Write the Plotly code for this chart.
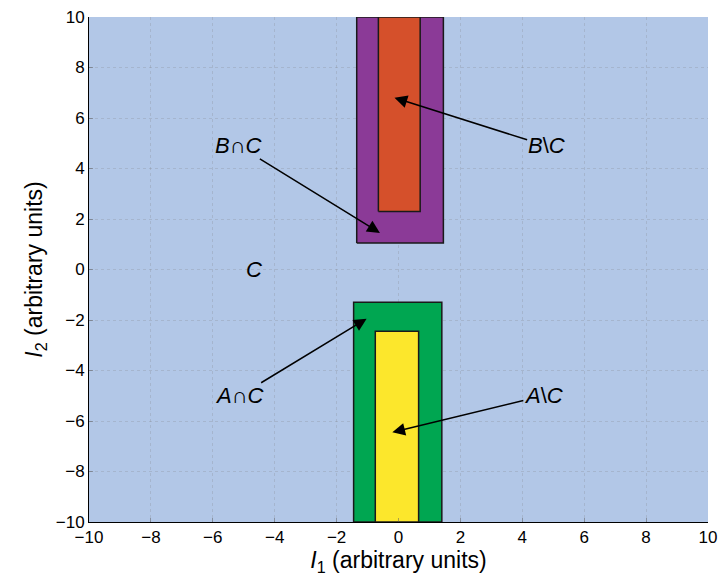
import plotly.graph_objects as go

# Set regions: [x0, x1, y0, y1]
region_names = ["B", "B\\C", "A", "A\\C"]
region_x0 = [-1.35, -0.65, -1.45, -0.75]
region_x1 = [1.45, 0.70, 1.40, 0.65]
region_y0 = [1.05, 2.30, -10.0, -10.0]
region_y1 = [10.0, 10.0, -1.30, -2.45]
region_colors = ["#8B3A97", "#D5502B", "#00A651", "#FCE72C"]

# Labels: text, text position, arrow tip
label_text = ["<i>B</i>∩<i>C</i>", "<i>B</i>\\<i>C</i>", "<i>A</i>∩<i>C</i>", "<i>A</i>\\<i>C</i>", "<i>C</i>"]
label_x = [-5.16, 4.77, -5.13, 4.68, -4.68]
label_y = [4.9, 4.9, -5.0, -5.0, 0.0]
tip_x = [-0.6, -0.13, -1.03, -0.2, None]
tip_y = [1.45, 6.8, -1.95, -6.45, None]

ticks = list(range(-10, 11, 2))
tick_text = [("−" + str(-t)) if t < 0 else str(t) for t in ticks]

FONT = "Liberation Sans, Arial, sans-serif"

fig = go.Figure()

for name, x0, x1, y0, y1, c in zip(region_names, region_x0, region_x1,
                                   region_y0, region_y1, region_colors):
    fig.add_trace(go.Scatter(
        x=[x0, x1, x1, x0, x0], y=[y0, y0, y1, y1, y0],
        mode="lines", fill="toself", fillcolor=c,
        line=dict(color="#1a1a1a", width=1.5),
        name=name, showlegend=False, hoverinfo="skip"))

for txt, lx, ly, tx, ty in zip(label_text, label_x, label_y, tip_x, tip_y):
    if tx is None:
        fig.add_annotation(x=lx, y=ly, text=txt, showarrow=False,
                           font=dict(size=22, color="black", family=FONT))
    else:
        fig.add_annotation(x=tx, y=ty, ax=lx, ay=ly, axref="x", ayref="y",
                           text=txt, showarrow=True, arrowhead=2,
                           arrowsize=1.7, arrowwidth=1.5, arrowcolor="black",
                           standoff=0, borderpad=0,
                           font=dict(size=22, color="black", family=FONT))

axis_common = dict(
    range=[-10, 10], tickvals=ticks, ticktext=tick_text,
    showgrid=True, gridcolor="rgba(120,120,120,0.22)", griddash="dot",
    gridwidth=1, zeroline=False, showline=True, linecolor="black",
    linewidth=1, ticks="inside", ticklen=4, tickcolor="rgba(90,90,90,0.5)",
    tickfont=dict(size=17, color="black", family=FONT),
    mirror=False, automargin=False, ticklabeloverflow="allow",
)

fig.update_xaxes(**axis_common,
                 title=dict(text="<i>I</i><sub>1</sub> (arbitrary units)",
                            font=dict(size=23, color="black", family=FONT),
                            standoff=2))
fig.update_yaxes(**axis_common,
                 title=dict(text="<i>I</i><sub>2</sub> (arbitrary units)",
                            font=dict(size=23, color="black", family=FONT),
                            standoff=6))

fig.update_layout(
    width=719, height=581,
    margin=dict(l=89, r=11, t=17, b=59),
    plot_bgcolor="#B2C7E7", paper_bgcolor="white",
    showlegend=False,
)

fig.write_html("out.html")
